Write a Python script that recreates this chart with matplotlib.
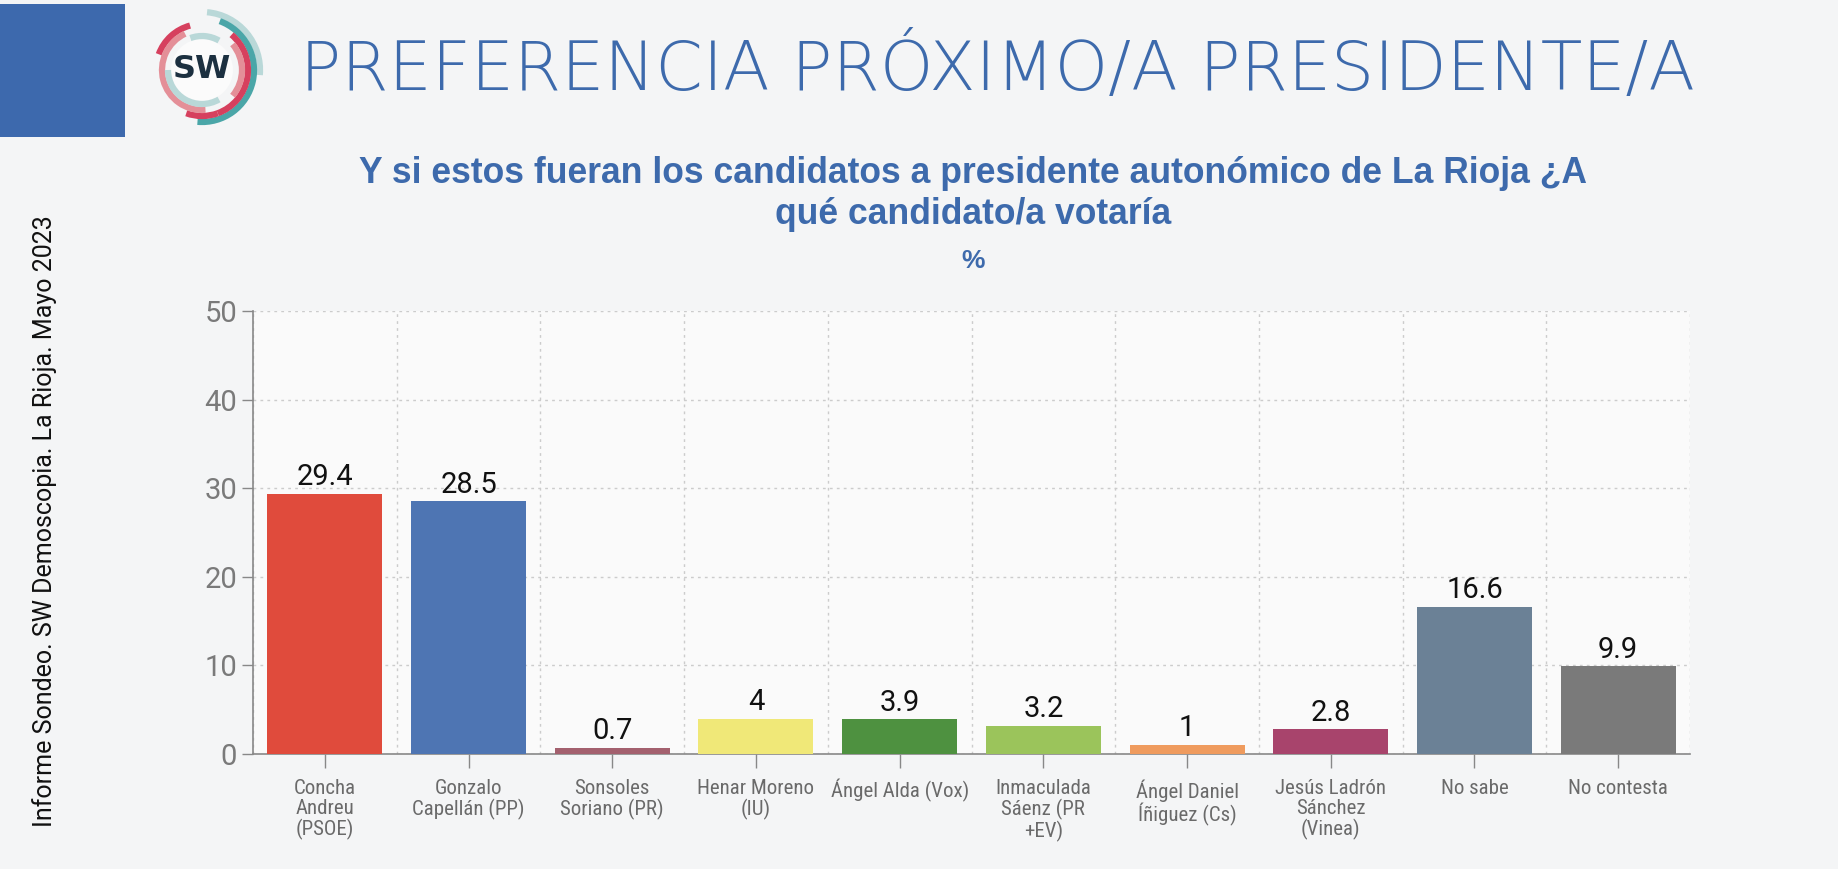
import matplotlib
matplotlib.use("Agg")
import matplotlib.pyplot as plt
from matplotlib.patches import Rectangle, Arc, Circle
import numpy as np

categories = ["Concha\nAndreu\n(PSOE)", "Gonzalo\nCapellán (PP)", "Sonsoles\nSoriano (PR)",
              "Henar Moreno\n(IU)", "Ángel Alda (Vox)", "Inmaculada\nSáenz (PR\n+EV)",
              "Ángel Daniel\nÍñiguez (Cs)", "Jesús Ladrón\nSánchez\n(Vinea)", "No sabe", "No contesta"]
values = [29.4, 28.5, 0.7, 4, 3.9, 3.2, 1, 2.8, 16.6, 9.9]
value_labels = ["29.4", "28.5", "0.7", "4", "3.9", "3.2", "1", "2.8", "16.6", "9.9"]
colors = ["#e04b3c", "#4e75b3", "#a3606e", "#f0e878", "#4e9140", "#9bc45b",
          "#ef9b5e", "#a8446c", "#6b8196", "#7a7a7a"]
yticks = [0, 10, 20, 30, 40, 50]

title = "PREFERENCIA PRÓXIMO/A PRESIDENTE/A"
subtitle = "Y si estos fueran los candidatos a presidente autonómico de La Rioja ¿A\nqué candidato/a votaría"
unit = "%"
side_text = "Informe Sondeo. SW Demoscopia. La Rioja. Mayo 2023"

W, H = 1838, 869
fig = plt.figure(figsize=(W / 100, H / 100), dpi=100)
fig.patch.set_facecolor("#f4f5f6")

# blue square
fig.add_artist(Rectangle((0, 1 - 137 / H), 125 / W, 133 / H, transform=fig.transFigure,
                         facecolor="#3d69ad", edgecolor="none"))

# logo
lax = fig.add_axes([137 / W, 1 - 135 / H, 130 / W, 130 / H])
lax.set_xlim(-65, 65)
lax.set_ylim(-65, 65)
lax.set_aspect("equal")
lax.axis("off")
arcs = [
    (58, -5, 85, "#b9d8d8", 4.5),
    (52, -95, 70, "#4aa6a8", 4.5),
    (46, -70, 50, "#d6405e", 4.5),
    (46, 105, 160, "#d6405e", 4.5),
    (46, 250, 290, "#d6405e", 4.5),
    (40, 115, 275, "#e48f98", 4.5),
    (40, -40, 40, "#e48f98", 4.5),
    (34, 180, 300, "#b9d8d8", 4.5),
    (34, 60, 110, "#b9d8d8", 4.5),
]
lax.add_patch(Circle((0, 0), 31, facecolor="#fbfbfb", edgecolor="none"))
for r, t1, t2, c, lw in arcs:
    lax.add_patch(Arc((0, 0), 2 * r, 2 * r, theta1=t1, theta2=t2, color=c, lw=lw))
lax.text(0, 0, "SW", ha="center", va="center", fontsize=23, fontweight="bold",
         color="#1c3040", family="DejaVu Sans", zorder=5)

fig.text(300 / W, 1 - 70 / H, title, ha="left", va="center", fontsize=49.1,
         fontweight="light", color="#3d6aac", family=["DejaVu Sans"])

fig.text(973 / W, 1 - 194 / H, subtitle, ha="center", va="center", fontsize=25.6,
         fontweight="bold", color="#3d6aac", family=["Liberation Sans", "DejaVu Sans"],
         linespacing=1.22)
fig.text(973 / W, 1 - 261 / H, unit, ha="center", va="center", fontsize=19,
         fontweight="bold", color="#3d6aac", family=["Liberation Sans", "DejaVu Sans"])

fig.text(45 / W, 1 - 521 / H, side_text, ha="center", va="center", rotation=90,
         fontsize=18, color="#111111", family=["Roboto", "DejaVu Sans"])

ax = fig.add_axes([253 / W, 1 - 754 / H, (1690 - 253) / W, (754 - 311) / H])
ax.set_facecolor("#fafafa")
x = np.arange(len(categories))
ax.bar(x, values, width=0.8, color=colors, zorder=3)
for xi, v, lab in zip(x, values, value_labels):
    ax.text(xi, v + 0.3, lab, ha="center", va="bottom", fontsize=21, color="#111111",
            family=["Roboto", "DejaVu Sans"], zorder=4)

ax.set_xlim(-0.5, len(categories) - 0.5)
ax.set_ylim(0, 50)
ax.set_yticks(yticks)
ax.set_xticks(x)
ax.set_xticklabels(categories, fontsize=15, color="#6a6a6a",
                   family=["Roboto Condensed", "Liberation Sans Narrow", "Roboto", "DejaVu Sans"],
                   linespacing=1.05)
ax.set_xticks(np.arange(len(categories) + 1) - 0.5, minor=True)
ax.tick_params(axis="y", labelsize=21, labelcolor="#7a7a7a", color="#888888", length=8, width=1)
ax.tick_params(axis="x", which="major", color="#888888", length=10, width=1, pad=8)
ax.tick_params(axis="x", which="minor", length=0)
for lab in ax.get_yticklabels():
    lab.set_family(["Roboto", "DejaVu Sans"])
ax.grid(axis="y", which="major", linestyle=(0, (2, 3)), color="#cccccc", lw=1, zorder=0)
ax.grid(axis="x", which="minor", linestyle=(0, (2, 3)), color="#cccccc", lw=1, zorder=0)
ax.grid(axis="x", which="major", visible=False)
for s in ["top", "right"]:
    ax.spines[s].set_visible(False)
for s in ["left", "bottom"]:
    ax.spines[s].set_color("#888888")
    ax.spines[s].set_linewidth(1.2)

fig.savefig("out.png", dpi=100, facecolor=fig.get_facecolor())
